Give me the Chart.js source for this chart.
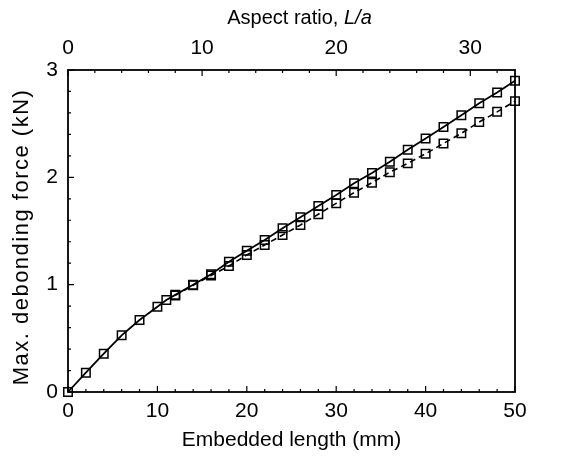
<!DOCTYPE html>
<html>
<head>
<meta charset="utf-8">
<script src="https://cdn.jsdelivr.net/npm/chart.js@4"></script>
<style>
  body { margin: 0; background: #fff; }
  #wrap { width: 570px; height: 459px; position: relative; }
</style>
</head>
<body>
<div id="wrap"><canvas id="chart"></canvas></div>
<script>
// embedded length (mm) and max debonding force (kN)
const lengthSolid = [0, 2, 4, 6, 8, 10, 11, 12, 14, 16, 18, 20, 22, 24, 26, 28, 30, 32, 34, 36, 38, 40, 42, 44, 46, 48, 50];
const forceSolid = [0, 0.18, 0.357, 0.528, 0.671, 0.795, 0.857, 0.905, 1.0, 1.097, 1.214, 1.317, 1.417, 1.525, 1.628, 1.733, 1.836, 1.945, 2.04, 2.146, 2.256, 2.362, 2.47, 2.578, 2.69, 2.79, 2.9];
const lengthDashed = [12, 14, 16, 18, 20, 22, 24, 26, 28, 30, 32, 34, 36, 38, 40, 42, 44, 46, 48, 50];
const forceDashed = [0.9, 0.995, 1.085, 1.174, 1.277, 1.37, 1.463, 1.556, 1.656, 1.758, 1.857, 1.95, 2.048, 2.13, 2.22, 2.316, 2.41, 2.516, 2.61, 2.71];

const bottomTicks = [0, 10, 20, 30, 40, 50];
const topTicks = [0, 10, 20, 30];
const leftTicks = [0, 1, 2, 3];
const fibreRadius = 1.5; // L/a conversion, mm

const FONT = 'Arial, "Liberation Sans", sans-serif';

const pts = (xs, ys) => xs.map((x, i) => ({x: x, y: ys[i]}));

// inward ticks, frame and axis titles
const decorations = {
  id: 'decorations',
  afterDraw(chart) {
    const {ctx, chartArea: a, scales} = chart;
    ctx.save();
    ctx.strokeStyle = '#000';
    ctx.lineWidth = 1.8;
    ctx.strokeRect(a.left, a.top, a.right - a.left, a.bottom - a.top);

    ctx.lineWidth = 1.2;
    ctx.beginPath();
    for (let v = 0; v <= 50; v += 2) {
      const px = scales.x.getPixelForValue(v);
      const len = v % 10 === 0 ? 6 : 3;
      ctx.moveTo(px, a.bottom); ctx.lineTo(px, a.bottom - len);
    }
    for (let v = 0; v <= 50 / fibreRadius; v += 2) {
      const px = scales.x2.getPixelForValue(v);
      const len = v % 10 === 0 ? 6 : 3;
      ctx.moveTo(px, a.top); ctx.lineTo(px, a.top + len);
    }
    for (let i = 0; i <= 15; i++) {
      const v = i * 0.2;
      const py = scales.y.getPixelForValue(v);
      const len = i % 5 === 0 ? 6 : 3;
      ctx.moveTo(a.left, py); ctx.lineTo(a.left + len, py);
    }
    ctx.stroke();

    ctx.fillStyle = '#000';
    ctx.textBaseline = 'middle';
    ctx.textAlign = 'center';
    ctx.font = '21px ' + FONT;
    const midX = (a.left + a.right) / 2;
    ctx.fillText('Embedded length (mm)', midX, 440);

    // top title with italic L/a
    const t1 = 'Aspect ratio, ';
    const t2 = 'L/a';
    ctx.font = '20px ' + FONT;
    const w1 = ctx.measureText(t1).width;
    ctx.font = 'italic 20px ' + FONT;
    const w2 = ctx.measureText(t2).width;
    const sx = midX + 8 - (w1 + w2) / 2;
    ctx.textAlign = 'left';
    ctx.font = '20px ' + FONT;
    ctx.fillText(t1, sx, 18);
    ctx.font = 'italic 20px ' + FONT;
    ctx.fillText(t2, sx + w1, 18);

    ctx.translate(22, (a.top + a.bottom) / 2 + 6);
    ctx.rotate(-Math.PI / 2);
    ctx.textAlign = 'center';
    ctx.font = '22px ' + FONT;
    ctx.letterSpacing = '1.5px';
    ctx.fillText('Max. debonding force (kN)', 0, 0);
    ctx.restore();
  }
};

const ctx = document.getElementById('chart').getContext('2d');
new Chart(ctx, {
  type: 'line',
  data: {
    datasets: [{
      label: 'solid',
      data: pts(lengthSolid, forceSolid),
      borderColor: '#000',
      borderWidth: 1.8,
      pointStyle: 'rect',
      pointRadius: 6,
      pointBorderWidth: 1.5,
      pointBorderColor: '#000',
      pointBackgroundColor: 'rgba(0,0,0,0)',
      clip: false
    }, {
      label: 'dashed',
      data: pts(lengthDashed, forceDashed),
      borderColor: '#000',
      borderWidth: 1.6,
      borderDash: [6, 4],
      pointStyle: 'rect',
      pointRadius: 6,
      pointBorderWidth: 1.5,
      pointBorderColor: '#000',
      pointBackgroundColor: 'rgba(0,0,0,0)',
      clip: false
    }]
  },
  options: {
    responsive: true,
    maintainAspectRatio: false,
    animation: false,
    layout: {padding: {left: 0, right: 55, top: 0, bottom: 0}},
    plugins: {legend: {display: false}, tooltip: {enabled: false}},
    scales: {
      x: {
        type: 'linear', position: 'bottom', min: 0, max: 50,
        grid: {display: false, drawTicks: false},
        border: {display: false},
        afterFit: s => { s.height = 67; },
        afterBuildTicks: s => { s.ticks = bottomTicks.map(v => ({value: v})); },
        ticks: {color: '#000', padding: 7, maxRotation: 0, font: {size: 21, family: FONT}}
      },
      x2: {
        type: 'linear', position: 'top', min: 0, max: 50 / fibreRadius,
        grid: {display: false, drawTicks: false},
        border: {display: false},
        afterFit: s => { s.height = 70; },
        afterBuildTicks: s => { s.ticks = topTicks.map(v => ({value: v})); },
        ticks: {color: '#000', padding: 9, maxRotation: 0, font: {size: 21, family: FONT}}
      },
      y: {
        type: 'linear', min: 0, max: 3,
        grid: {display: false, drawTicks: false},
        border: {display: false},
        afterFit: s => { s.width = 68; },
        afterBuildTicks: s => { s.ticks = leftTicks.map(v => ({value: v})); },
        ticks: {color: '#000', padding: 10, font: {size: 21, family: FONT}}
      }
    }
  },
  plugins: [decorations]
});
</script>
</body>
</html>
